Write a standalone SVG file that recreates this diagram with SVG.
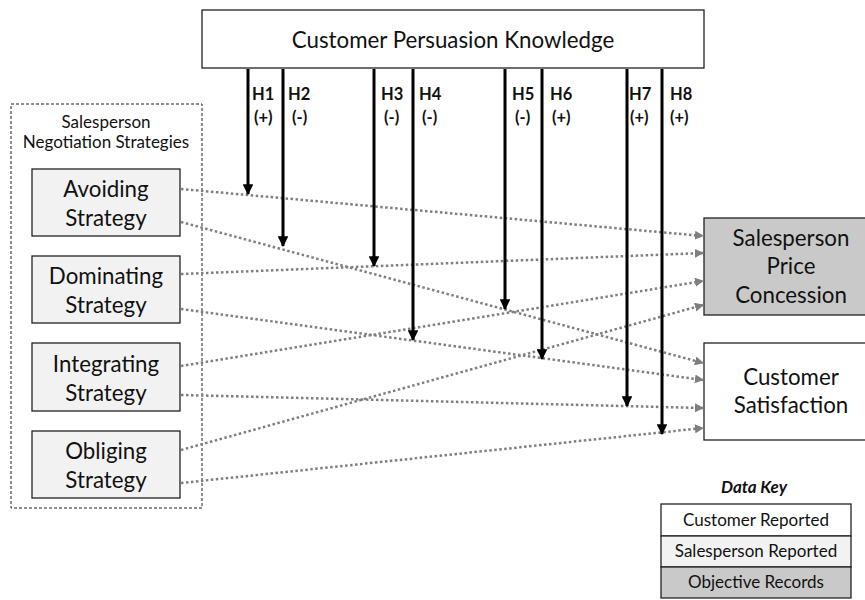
<svg xmlns="http://www.w3.org/2000/svg" width="865" height="600" viewBox="0 0 865 600">
<style>
text{font-family:Lato,"Open Sans","Liberation Sans",sans-serif;fill:#111;text-anchor:middle}
.big{font-size:22.3px}
.sm{font-size:17px}
.h{font-size:16.5px;font-weight:bold;text-anchor:start}
.box{stroke:#222;stroke-width:1.3}
.dot{fill:none;stroke:#7f7f7f;stroke-width:2.5;stroke-dasharray:2.5 2.5}
.arr{fill:none;stroke:#000;stroke-width:3}
</style>
<defs>
<marker id="g" viewBox="0 0 10 10" refX="9" refY="5" markerWidth="3.6" markerHeight="3.6" orient="auto" markerUnits="strokeWidth"><path d="M0,0L10,5L0,10z" fill="#7f7f7f"/></marker>
<marker id="b" viewBox="0 0 10 10" refX="9" refY="5" markerWidth="3.6" markerHeight="3.6" orient="auto" markerUnits="strokeWidth"><path d="M0,0L10,5L0,10z" fill="#000"/></marker>
</defs>
<rect width="865" height="600" fill="#fff"/>
<g id="group-strategies"><rect x="11" y="104" width="191" height="404" fill="none" stroke="#222" stroke-width="1" stroke-dasharray="3 2"/>
<text class="sm" x="106" y="128">Salesperson</text><text class="sm" x="106" y="148">Negotiation Strategies</text></g>
<g id="cpk"><rect class="box" x="202" y="10" width="502" height="58" fill="#fff"/><text class="big" x="453" y="48">Customer Persuasion Knowledge</text></g>
<g id="avoiding"><rect class="box" x="32" y="169" width="148" height="67" fill="#f2f2f2"/><text class="big" x="106" y="197">Avoiding</text><text class="big" x="106" y="226">Strategy</text></g>
<g id="dominating"><rect class="box" x="32" y="256" width="148" height="67" fill="#f2f2f2"/><text class="big" x="106" y="284">Dominating</text><text class="big" x="106" y="313">Strategy</text></g>
<g id="integrating"><rect class="box" x="32" y="343" width="148" height="68" fill="#f2f2f2"/><text class="big" x="106" y="372">Integrating</text><text class="big" x="106" y="401">Strategy</text></g>
<g id="obliging"><rect class="box" x="32" y="431" width="148" height="67" fill="#f2f2f2"/><text class="big" x="106" y="459">Obliging</text><text class="big" x="106" y="488">Strategy</text></g>
<g id="spc"><rect class="box" x="704" y="218" width="165" height="97" fill="#c9c9c9"/><text class="big" x="791" y="246">Salesperson</text><text class="big" x="791" y="274">Price</text><text class="big" x="791" y="303">Concession</text></g>
<g id="cs"><rect class="box" x="704" y="343" width="165" height="97" fill="#fff"/><text class="big" x="791" y="385">Customer</text><text class="big" x="791" y="413">Satisfaction</text></g>
<g id="connectors">
<line class="dot" x1="181" y1="189" x2="703" y2="236" marker-end="url(#g)"/>
<line class="dot" x1="181" y1="222" x2="703" y2="363" marker-end="url(#g)"/>
<line class="dot" x1="181" y1="274" x2="703" y2="253" marker-end="url(#g)"/>
<line class="dot" x1="181" y1="309" x2="703" y2="380" marker-end="url(#g)"/>
<line class="dot" x1="181" y1="366" x2="703" y2="281" marker-end="url(#g)"/>
<line class="dot" x1="181" y1="395" x2="703" y2="408" marker-end="url(#g)"/>
<line class="dot" x1="181" y1="450" x2="703" y2="305" marker-end="url(#g)"/>
<line class="dot" x1="181" y1="483" x2="703" y2="428" marker-end="url(#g)"/>
<line class="arr" x1="248" y1="69" x2="248" y2="194" marker-end="url(#b)"/>
<line class="arr" x1="283" y1="69" x2="283" y2="246" marker-end="url(#b)"/>
<line class="arr" x1="374" y1="69" x2="374" y2="266" marker-end="url(#b)"/>
<line class="arr" x1="413" y1="69" x2="413" y2="340" marker-end="url(#b)"/>
<line class="arr" x1="505" y1="69" x2="505" y2="309" marker-end="url(#b)"/>
<line class="arr" x1="542" y1="69" x2="542" y2="359" marker-end="url(#b)"/>
<line class="arr" x1="627" y1="69" x2="627" y2="406" marker-end="url(#b)"/>
<line class="arr" x1="662" y1="69" x2="662" y2="434" marker-end="url(#b)"/>
</g>
<g id="labels">
<text class="h" x="252" y="100">H1</text><text class="h" x="254" y="123">(+)</text>
<text class="h" x="288" y="100">H2</text><text class="h" x="292" y="123">(-)</text>
<text class="h" x="381" y="100">H3</text><text class="h" x="384" y="123">(-)</text>
<text class="h" x="419" y="100">H4</text><text class="h" x="422" y="123">(-)</text>
<text class="h" x="512" y="100">H5</text><text class="h" x="515" y="123">(-)</text>
<text class="h" x="550" y="100">H6</text><text class="h" x="552" y="123">(+)</text>
<text class="h" x="629" y="100">H7</text><text class="h" x="630" y="123">(+)</text>
<text class="h" x="670" y="100">H8</text><text class="h" x="670" y="123">(+)</text>
</g>
<g id="data-key">
<text x="754" y="493" style="font-size:17px;font-weight:bold;font-style:italic">Data Key</text>
<rect class="box" x="661" y="504" width="190" height="32" fill="#fff"/><text class="sm" x="756" y="526">Customer Reported</text>
<rect class="box" x="661" y="536" width="190" height="31" fill="#f2f2f2"/><text class="sm" x="756" y="557">Salesperson Reported</text>
<rect class="box" x="661" y="567" width="190" height="31" fill="#c9c9c9"/><text class="sm" x="756" y="588">Objective Records</text>
</g>
</svg>
